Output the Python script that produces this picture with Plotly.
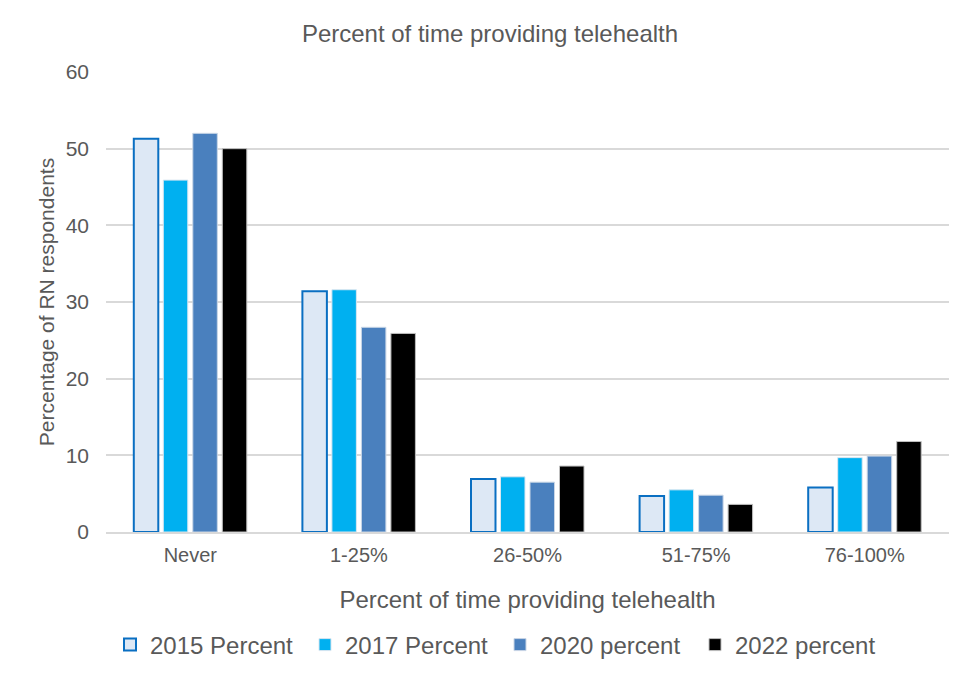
import plotly.graph_objects as go

categories = ["Never", "1-25%", "26-50%", "51-75%", "76-100%"]
series_names = ["2015 Percent", "2017 Percent", "2020 percent", "2022 percent"]
v2015 = [51.3, 31.4, 6.9, 4.7, 5.8]
v2017 = [45.9, 31.6, 7.2, 5.5, 9.7]
v2020 = [52.0, 26.7, 6.5, 4.8, 9.9]
v2022 = [50.0, 25.9, 8.6, 3.6, 11.8]
y_ticks = [0, 10, 20, 30, 40, 50, 60]

fills = ["#dde8f5", "#00b0f0", "#4a80be", "#000000"]
outlines = ["#0a6fc2", "#d9e6f0", "#c9d6e6", "#bfbfbf"]
outline_w = [2, 1, 1, 1]

# page body has an 8px margin; figure is sized to fit the viewport
OFF = 8
W, H = 961 - OFF, 676 - OFF
L, R, T, B = 98, 12, 64, 144

fig = go.Figure()
for name, vals, fc, lc, lw in zip(series_names, [v2015, v2017, v2020, v2022], fills, outlines, outline_w):
    fig.add_trace(go.Bar(
        x=categories, y=vals, name=name,
        marker=dict(color=fc, line=dict(color=lc, width=lw)),
    ))

fig.update_layout(
    width=W, height=H,
    margin=dict(l=L, r=R, t=T, b=B, pad=0, autoexpand=False),
    paper_bgcolor="white", plot_bgcolor="white",
    font=dict(family="Liberation Sans, Arial, sans-serif", color="#595959"),
    title=dict(text="Percent of time providing telehealth", xref="container", x=482 / W,
               xanchor="center", yref="container", y=1 - 26 / H, yanchor="middle",
               font=dict(size=24, color="#595959")),
    barmode="group", bargap=0.3, bargroupgap=0.17,
    legend=dict(orientation="h", xref="container", x=102 / W, xanchor="left",
                yref="container", y=1 - 637 / H, yanchor="middle",
                font=dict(size=24, color="#595959"), itemwidth=30,
                entrywidth=150, entrywidthmode="pixels", traceorder="normal"),
    showlegend=True,
)
fig.update_yaxes(
    range=[0, 60], tickvals=y_ticks, showgrid=True, gridcolor="#d9d9d9", gridwidth=1.5,
    zeroline=False, showline=False, tickfont=dict(size=21, color="#595959"),
    ticklabelstandoff=16, automargin=False,
    title=dict(text="Percentage of RN respondents", font=dict(size=21, color="#595959"), standoff=5),
)
fig.update_xaxes(
    showline=True, linecolor="#d9d9d9", linewidth=1.5, tickfont=dict(size=20, color="#595959"),
    ticklabelstandoff=4, automargin=False,
    title=dict(text="Percent of time providing telehealth", font=dict(size=24, color="#595959"), standoff=26),
)

fig.write_html("out.html")
